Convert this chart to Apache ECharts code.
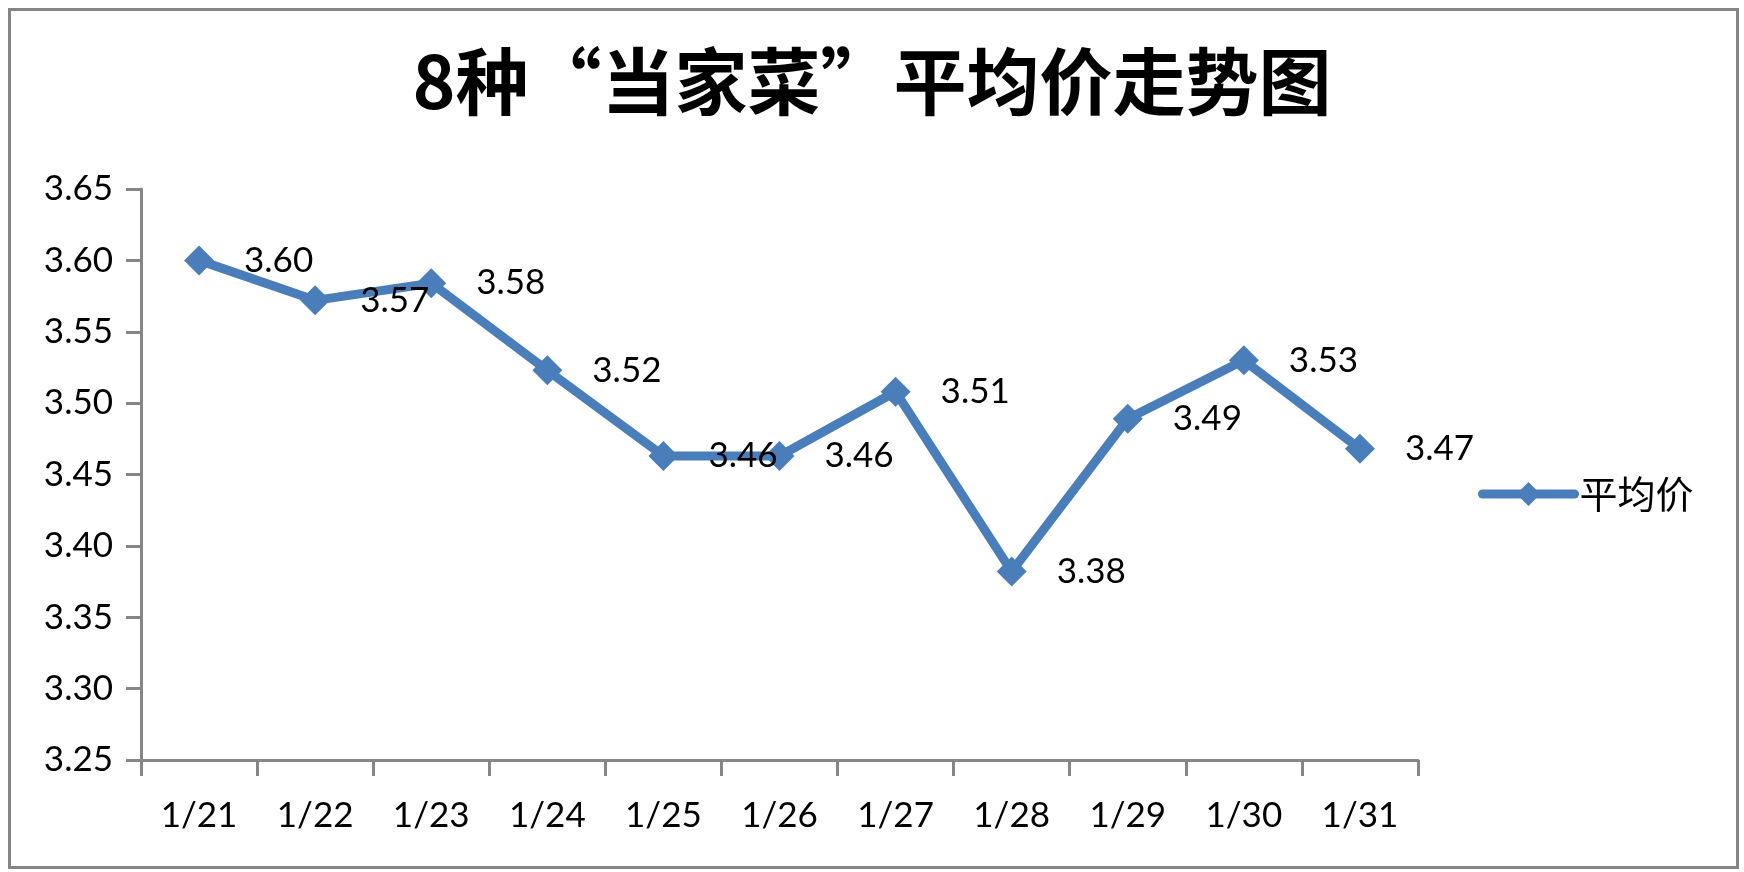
<!DOCTYPE html>
<html>
<head>
<meta charset="utf-8">
<script src="https://cdn.jsdelivr.net/npm/echarts@6/dist/echarts.min.js"></script>
<style>
html,body{margin:0;padding:0;background:#fff;}
#main{width:1744px;height:872px;}
</style>
</head>
<body>
<div id="main"></div>
<script>
const titleText = '8种“当家菜”平均价走势图';
const seriesName = '平均价';
const categories = ['1/21','1/22','1/23','1/24','1/25','1/26','1/27','1/28','1/29','1/30','1/31'];
const avgPrice = [3.600, 3.572, 3.584, 3.523, 3.463, 3.463, 3.508, 3.382, 3.489, 3.530, 3.468];
const yMin = 3.25, yMax = 3.65, yStep = 0.05;

const chart = echarts.init(document.getElementById('main'));
const numFont = 'Lato, "Liberation Sans", sans-serif';
const axisGray = '#868686';
chart.setOption({
  backgroundColor: '#ffffff',
  animation: false,
  graphic: [{
    type: 'rect',
    shape: {x: 9.5, y: 9.5, width: 1728, height: 858},
    style: {fill: 'none', stroke: '#858585', lineWidth: 3},
    silent: true
  }],
  title: {
    text: titleText,
    left: 'center',
    top: 40,
    textStyle: {
      fontFamily: '"Noto Sans CJK SC", sans-serif',
      fontWeight: 'bold',
      fontSize: 73,
      color: '#000'
    }
  },
  legend: {
    data: [seriesName],
    left: 1473,
    top: 470,
    itemWidth: 92,
    itemHeight: 30,
    itemGap: 12,
    lineStyle: {width: 9, cap: 'round', color: '#4a7ebb'},
    textStyle: {
      fontFamily: '"Noto Sans CJK SC", serif',
      fontSize: 38,
      color: '#000'
    }
  },
  grid: {left: 141, right: 326, top: 189, bottom: 112, containLabel: false},
  xAxis: {
    type: 'category',
    data: categories,
    boundaryGap: true,
    axisLine: {lineStyle: {color: axisGray, width: 3}},
    axisTick: {show: true, length: 16, lineStyle: {color: axisGray, width: 3}, alignWithLabel: false},
    axisLabel: {
      margin: 38,
      fontFamily: numFont,
      fontSize: 35,
      color: '#000'
    },
    splitLine: {show: false}
  },
  yAxis: {
    type: 'value',
    min: yMin,
    max: yMax,
    interval: yStep,
    axisLine: {show: true, lineStyle: {color: axisGray, width: 3}},
    axisTick: {show: true, length: 15, lineStyle: {color: axisGray, width: 3}},
    axisLabel: {
      margin: 28,
      fontFamily: numFont,
      fontSize: 35,
      color: '#000',
      formatter: v => v.toFixed(2)
    },
    splitLine: {show: false}
  },
  series: [{
    name: seriesName,
    type: 'line',
    data: avgPrice,
    symbol: 'diamond',
    symbolSize: 30,
    showAllSymbol: true,
    lineStyle: {color: '#4a7ebb', width: 9},
    itemStyle: {color: '#4a7ebb'},
    label: {
      show: true,
      position: 'right',
      distance: 30,
      fontFamily: numFont,
      fontSize: 35,
      color: '#000',
      formatter: p => p.value.toFixed(2)
    }
  }]
});
</script>
</body>
</html>
